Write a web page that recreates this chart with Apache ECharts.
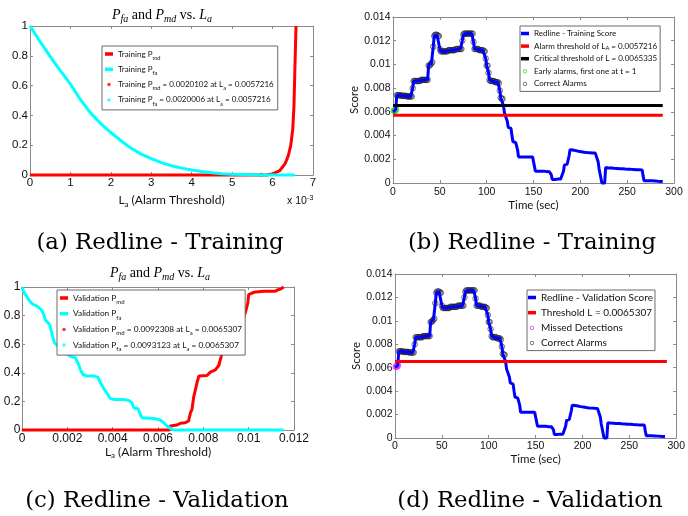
<!DOCTYPE html>
<html><head><meta charset="utf-8">
<script src="https://cdn.jsdelivr.net/npm/echarts@6/dist/echarts.min.js"></script>
<style>html,body{margin:0;padding:0;background:#fff}#c{width:688px;height:516px}</style>
</head><body><div id="c"></div>
<script>
// ---------------- DATA ----------------
// (a) Training: P_fa and P_md vs alarm threshold L_a
const trainLaFa = [0, 0.00025, 0.0005, 0.00075, 0.001, 0.00125, 0.0015, 0.00175, 0.002, 0.00225, 0.0025, 0.00275, 0.003, 0.00325, 0.0035, 0.00375, 0.004, 0.00425, 0.0045, 0.00475, 0.005, 0.00525, 0.0055, 0.00575, 0.006, 0.00655];
const trainPfa  = [1.0, 0.895, 0.795, 0.70, 0.61, 0.505, 0.415, 0.345, 0.285, 0.23, 0.18, 0.14, 0.11, 0.083, 0.062, 0.046, 0.034, 0.023, 0.015, 0.009, 0.005, 0.003, 0.001, 0.0005, 0, 0];
const trainLaMd = [0, 0.00585, 0.00602, 0.00618, 0.00631, 0.00639, 0.00645, 0.0065, 0.00653, 0.00655, 0.00658];
const trainPmd  = [0, 0, 0.009, 0.03, 0.076, 0.13, 0.2, 0.31, 0.47, 0.69, 1.0];
const trainAlarmThreshold = 0.0057216;
const trainPmdAtThr = 0.0020102;
const trainPfaAtThr = 0.0020006;
const criticalThreshold = 0.0065335;

// (c) Validation: P_fa and P_md vs alarm threshold L_a
const valLaFa = [0, 0.0001, 0.0003, 0.0004, 0.0005, 0.00063, 0.00076, 0.00088, 0.00096, 0.00103, 0.0011, 0.00122, 0.00128, 0.00137, 0.00143, 0.00154, 0.0017, 0.0019, 0.00213, 0.00235, 0.0025, 0.00257, 0.00269, 0.00287, 0.00316, 0.00335, 0.00346, 0.00363, 0.00378, 0.0039, 0.00404, 0.00449, 0.0047, 0.00485, 0.00493, 0.00512, 0.00522, 0.0053, 0.00581, 0.0061, 0.00625, 0.0064, 0.00654, 0.0067, 0.01154];
const valPfa  = [1.0, 0.96, 0.91, 0.89, 0.877, 0.87, 0.853, 0.835, 0.807, 0.77, 0.76, 0.737, 0.70, 0.644, 0.61, 0.593, 0.57, 0.54, 0.516, 0.505, 0.458, 0.423, 0.388, 0.377, 0.377, 0.37, 0.33, 0.284, 0.249, 0.22, 0.214, 0.214, 0.207, 0.19, 0.156, 0.149, 0.109, 0.086, 0.081, 0.07, 0.051, 0.028, 0.012, 0, 0];
const valLaMd = [0, 0.0065, 0.00654, 0.00684, 0.00699, 0.0072, 0.00735, 0.00743, 0.0075, 0.00757, 0.00772, 0.0078, 0.00816, 0.00831, 0.00853, 0.00868, 0.00878, 0.00882, 0.0090, 0.0093, 0.00956, 0.0097, 0.00985, 0.00996, 0.0100, 0.01022, 0.01066, 0.01118, 0.01128, 0.01143, 0.01154];
const valPmd  = [0, 0, 0.028, 0.035, 0.047, 0.051, 0.063, 0.12, 0.144, 0.226, 0.33, 0.377, 0.381, 0.405, 0.42, 0.451, 0.51, 0.54, 0.62, 0.70, 0.726, 0.749, 0.819, 0.888, 0.947, 0.963, 0.97, 0.97, 0.98, 0.988, 1.0];
const valThreshold = 0.0065307;
const valPmdAtThr = 0.0092308;
const valPfaAtThr = 0.0093123;

// (b)/(d) Redline score, one sample per second (t = 0 .. 288 s)
const score = [
  0.0060, 0.0061, 0.0061, 0.0062, 0.0074, 0.0074, 0.0074, 0.0074, 0.0074, 0.00735,
  0.00735, 0.00735, 0.00735, 0.00735, 0.00735, 0.0073, 0.0073, 0.0073, 0.0073, 0.0073,
  0.0073, 0.0080, 0.0086, 0.0086, 0.0086, 0.0086, 0.0086, 0.0086, 0.0086, 0.0086,
  0.0087, 0.0087, 0.0087, 0.0087, 0.0087, 0.0087, 0.0087, 0.0087, 0.0099, 0.0099,
  0.0100, 0.0101, 0.0102, 0.0115, 0.0124, 0.0125, 0.0125, 0.0125, 0.0124, 0.0124,
  0.0113, 0.0111, 0.0111, 0.0111, 0.0111, 0.0111, 0.0111, 0.0111, 0.0111, 0.0112,
  0.0112, 0.0112, 0.0112, 0.0112, 0.0112, 0.0112, 0.0112, 0.0113, 0.0113, 0.0113,
  0.0113, 0.0113, 0.0113, 0.0113, 0.0120, 0.0125, 0.0126, 0.0126, 0.0126, 0.0126,
  0.0126, 0.0126, 0.0126, 0.0126, 0.0126, 0.0126, 0.0119, 0.0113, 0.0113, 0.0113,
  0.0113, 0.0113, 0.0112, 0.0112, 0.0112, 0.0112, 0.0112, 0.0111, 0.0111, 0.0105,
  0.0099, 0.0099, 0.0093, 0.0087, 0.0086, 0.0086, 0.0086, 0.0086, 0.0086, 0.0085,
  0.0085, 0.0085, 0.0085, 0.0084, 0.0078, 0.0072, 0.0071, 0.0071, 0.0065, 0.0059,
  0.0059, 0.0058, 0.0052, 0.0047, 0.0047, 0.0046, 0.0046, 0.0040, 0.0035, 0.0035,
  0.0034, 0.0034, 0.0034, 0.0028, 0.0022, 0.0022, 0.0022, 0.0022, 0.0022, 0.0022,
  0.0022, 0.0022, 0.0022, 0.0022, 0.0022, 0.0022, 0.0022, 0.0022, 0.0022, 0.0022,
  0.0022, 0.0021, 0.0010, 0.0010, 0.0010, 0.0010, 0.0010, 0.0010, 0.0010, 0.0010,
  0.0010, 0.0010, 0.00098, 0.00097, 0.00096, 0.00096, 0.00095, 0.00095, 0.00095, 0.0007,
  0.0003, 0.0003, 0.0003, 0.0003, 0.0003, 0.00033, 0.00033, 0.00033, 0.00033, 0.00033,
  0.00035, 0.00035, 0.0010, 0.0015, 0.0016, 0.0016, 0.0016, 0.0017, 0.0023, 0.0028,
  0.0028, 0.0028, 0.00278, 0.00276, 0.00275, 0.00273, 0.00272, 0.0027, 0.00268, 0.00267,
  0.00265, 0.00264, 0.00262, 0.00261, 0.0026, 0.00259, 0.00258, 0.00257, 0.00256, 0.00255,
  0.00255, 0.00254, 0.00254, 0.00253, 0.00253, 0.00253, 0.00252, 0.00252, 0.0025, 0.0018,
  0.0012, 0.0012, 0.0011, 0.0000, 0.0000, 0.0000, 0.0000, 0.0013, 0.00128, 0.00128,
  0.00127, 0.00127, 0.00126, 0.00126, 0.00125, 0.00125, 0.00124, 0.00124, 0.00123, 0.00123,
  0.00122, 0.00122, 0.00121, 0.00121, 0.0012, 0.0012, 0.00119, 0.00119, 0.00118, 0.00118,
  0.00117, 0.00117, 0.00116, 0.00116, 0.00115, 0.00115, 0.00114, 0.00114, 0.00113, 0.00113,
  0.00112, 0.00112, 0.00111, 0.00111, 0.0011, 0.0011, 0.0011, 0.0006, 0.0002, 0.0002,
  0.0002, 0.0002, 0.0002, 0.0002, 0.0002, 0.00018, 0.00018, 0.00018, 0.00018, 0.00018,
  0.00016, 0.00015, 0.00015, 0.00014, 0.00014, 0.00013, 0.00013, 0.00012, 0.00012
];
const timeSec = score.map((_, i) => i);           // 1 Hz sampling
const earlyAlarmTimes = [1, 2, 3];
const missedDetectionTimes = [1, 2, 3];
const thresholdLineSpanB = [0, 288];
const thresholdLineSpanD = [0, 290];

// ---------------- HELPERS ----------------
const zip = (xs, ys) => xs.map((x, i) => [x, ys[i]]);
const BOX = '#8a8a8a', TXT = '#111';
const SANS = 'Liberation Sans', HUM = 'Lato', SERIF = 'Liberation Serif';

function xAxes(g, min, max, interval, o) {
  const label = {show: true, color: TXT, fontSize: o.fs, fontFamily: SANS, margin: o.margin};
  if (o.fmt) label.formatter = o.fmt;
  return [
    {type: 'value', gridIndex: g, position: 'bottom', min, max, interval,
     axisLine: {show: true, onZero: false, lineStyle: {color: BOX, width: 1}},
     axisTick: {show: true, inside: true, length: 3, lineStyle: {color: BOX}},
     axisLabel: label, splitLine: {show: false},
     name: o.name, nameLocation: 'middle', nameGap: o.gap, nameTextStyle: o.nameStyle},
    {type: 'value', gridIndex: g, position: 'top', min, max, interval,
     axisLine: {show: true, onZero: false, lineStyle: {color: BOX, width: 1}},
     axisTick: {show: true, inside: true, length: 3, lineStyle: {color: BOX}},
     axisLabel: {show: false}, splitLine: {show: false}}
  ];
}
function yAxes(g, min, max, interval, o) {
  const left = {type: 'value', gridIndex: g, position: 'left', min, max, interval,
     axisLine: {show: true, onZero: false, lineStyle: {color: BOX, width: 1}},
     axisTick: {show: true, inside: true, length: 3, lineStyle: {color: BOX}},
     axisLabel: {show: true, color: TXT, fontSize: o.fs, fontFamily: SANS, margin: o.margin},
     splitLine: {show: false}};
  if (o.name) {
    left.name = o.name; left.nameLocation = 'middle'; left.nameGap = o.gap;
    left.nameTextStyle = {fontFamily: HUM, fontSize: 11.5, color: TXT};
  }
  return [left,
    {type: 'value', gridIndex: g, position: 'right', min, max, interval,
     axisLine: {show: true, onZero: false, lineStyle: {color: BOX, width: 1}},
     axisTick: {show: true, inside: true, length: 3, lineStyle: {color: BOX}},
     axisLabel: {show: false}, splitLine: {show: false}}];
}
const laName = '{n|L}{s|a}{n| (Alarm Threshold)}';
const laNameStyle = {color: TXT, rich: {
  n: {fontFamily: HUM, fontSize: 12, lineHeight: 16, color: TXT},
  s: {fontFamily: HUM, fontSize: 8, lineHeight: 6, verticalAlign: 'bottom', color: TXT}}};
const timeNameStyle = {fontFamily: HUM, fontSize: 11.5, color: TXT, lineHeight: 14};

const lineItem = (name, color) => ({name, icon: 'rect', itemStyle: {color, borderWidth: 0}});
const dotItem = (name, color) => ({name, icon: 'circle', itemStyle: {color, borderWidth: 0}});
const ringItem = (name, color) => ({name, icon: 'circle', itemStyle: {color: 'rgba(0,0,0,0)', borderColor: color, borderWidth: 0.8}});

const LABELS = {
  'Training Pmd': 'Training P{s|md}',
  'Training Pfa': 'Training P{s|fa}',
  'Training Pmd at La': `Training P{s|md} = ${trainPmdAtThr} at L{s|a} = ${trainAlarmThreshold}`,
  'Training Pfa at La': `Training P{s|fa} = ${trainPfaAtThr} at L{s|a} = ${trainAlarmThreshold}`,
  'Redline - Training Score': 'Redline - Training Score',
  'Alarm threshold': `Alarm threshold of L{s|A} = ${trainAlarmThreshold}`,
  'Critical threshold': `Critical threshold of L = ${criticalThreshold}`,
  'Early alarms': 'Early alarms, first one at t = 1',
  'Correct Alarms (training)': 'Correct Alarms',
  'Validation Pmd': 'Validation P{s|md}',
  'Validation Pfa': 'Validation P{s|fa}',
  'Validation Pmd at La': `Validation P{s|md} = ${valPmdAtThr} at L{s|a} = ${valThreshold}`,
  'Validation Pfa at La': `Validation P{s|fa} = ${valPfaAtThr} at L{s|a} = ${valThreshold}`,
  'Redline - Validation Score': 'Redline - Validation Score',
  'Threshold L': `Threshold L = ${valThreshold}`,
  'Missed Detections': 'Missed Detections',
  'Correct Alarms (validation)': 'Correct Alarms'
};
function legendBox(o) {
  return {
    orient: 'vertical', left: o.left, top: o.top, padding: o.padding,
    itemWidth: o.iw, itemHeight: o.ih, itemGap: o.gap,
    backgroundColor: '#fff', borderColor: '#6a6a6a', borderWidth: 1, borderRadius: 0,
    selectedMode: false, data: o.data,
    formatter: name => LABELS[name],
    textStyle: {fontFamily: HUM, fontSize: o.fs, lineHeight: o.lh, color: TXT,
      rich: {s: {fontFamily: HUM, fontSize: o.fs * 0.72, lineHeight: 5, verticalAlign: 'bottom', color: TXT}}}
  };
}
const mathTitle = (x, y) => ({
  text: '{i|P}{s|fa}{r| and }{i|P}{s|md}{r| vs. }{i|L}{s|a}',
  left: x, top: y, padding: 0, textAlign: 'center', textVerticalAlign: 'middle',
  textStyle: {fontWeight: 'normal', rich: {
    i: {fontFamily: SERIF, fontStyle: 'italic', fontWeight: 'normal', fontSize: 14, lineHeight: 18, color: '#000'},
    s: {fontFamily: SERIF, fontStyle: 'italic', fontWeight: 'normal', fontSize: 10, lineHeight: 8, verticalAlign: 'bottom', color: '#000'},
    r: {fontFamily: SERIF, fontWeight: 'normal', fontSize: 14, lineHeight: 18, color: '#000'}}}
});
const caption = (text, x, y) => ({
  text, left: x, top: y, padding: 0, textAlign: 'center', textVerticalAlign: 'middle',
  textStyle: {fontFamily: 'DejaVu Serif', fontWeight: 'normal', fontSize: 22.8, color: '#000'}
});

// ---------------- OPTION ----------------
const option = {
  animation: false,
  backgroundColor: '#fff',
  title: [
    mathTitle(162, 15),
    mathTitle(160, 273),
    caption('(a) Redline - Training', 160, 243.5),
    caption('(b) Redline - Training', 532, 243.5),
    caption('(c) Redline - Validation', 157, 501),
    caption('(d) Redline - Validation', 530, 501),
    {text: '{n|x 10}{p|-3}', left: 287, top: 201.5, padding: 0, textAlign: 'left', textVerticalAlign: 'middle',
     textStyle: {fontWeight: 'normal', rich: {
       n: {fontFamily: SANS, fontWeight: 'normal', fontSize: 10.5, lineHeight: 16, color: TXT},
       p: {fontFamily: SANS, fontWeight: 'normal', fontSize: 7.5, lineHeight: 8, verticalAlign: 'top', color: TXT}}}}
  ],
  grid: [
    {left: 30, top: 26, width: 283, height: 149},
    {left: 393, top: 17, width: 281, height: 166},
    {left: 22, top: 287, width: 272, height: 143},
    {left: 395, top: 274, width: 283, height: 164}
  ],
  xAxis: [].concat(
    xAxes(0, 0, 0.007, 0.001, {fs: 11.5, margin: 2, fmt: v => String(Math.round(v * 1000)),
      name: laName, gap: 17.5, nameStyle: laNameStyle}),
    xAxes(1, 0, 300, 50, {fs: 10.5, margin: 3.5, name: 'Time (sec)', gap: 13, nameStyle: timeNameStyle}),
    xAxes(2, 0, 0.012, 0.002, {fs: 12, margin: 3, name: laName, gap: 12.5, nameStyle: laNameStyle}),
    xAxes(3, 0, 300, 50, {fs: 10.5, margin: 2.5, name: 'Time (sec)', gap: 14, nameStyle: timeNameStyle})
  ),
  yAxis: [].concat(
    yAxes(0, 0, 1, 0.2, {fs: 11.5, margin: 2}),
    yAxes(1, 0, 0.014, 0.002, {fs: 10.5, margin: 2.5, name: 'Score', gap: 30}),
    yAxes(2, 0, 1, 0.2, {fs: 12, margin: 1.5}),
    yAxes(3, 0, 0.014, 0.002, {fs: 10.5, margin: 2.5, name: 'Score', gap: 31})
  ),
  legend: [
    legendBox({left: 102, top: 46, padding: [1, 4, 3, 3], iw: 8, ih: 3.5, gap: 1.3, fs: 8, lh: 14,
      data: [lineItem('Training Pmd', '#ff0000'), lineItem('Training Pfa', '#00ffff'),
             dotItem('Training Pmd at La', '#ff0000'), dotItem('Training Pfa at La', '#00ffff')]}),
    legendBox({left: 520, top: 26, padding: [2, 3, 2, 1], iw: 8, ih: 3.5, gap: 1.6, fs: 8, lh: 11,
      data: [lineItem('Redline - Training Score', '#0000ff'), lineItem('Alarm threshold', '#ff0000'),
             lineItem('Critical threshold', '#000000'), ringItem('Early alarms', '#00dd00'),
             ringItem('Correct Alarms (training)', '#333333')]}),
    legendBox({left: 57, top: 290, padding: [1, 3, 3, 3], iw: 8, ih: 3.5, gap: 1.7, fs: 8.3, lh: 14,
      data: [lineItem('Validation Pmd', '#ff0000'), lineItem('Validation Pfa', '#00ffff'),
             dotItem('Validation Pmd at La', '#ff0000'), dotItem('Validation Pfa at La', '#00ffff')]}),
    legendBox({left: 527, top: 290, padding: [1, 2, 1, 1], iw: 8, ih: 3.5, gap: 2.2, fs: 10, lh: 13,
      data: [lineItem('Redline - Validation Score', '#0000ff'), lineItem('Threshold L', '#ff0000'),
             ringItem('Missed Detections', '#ff00ff'), ringItem('Correct Alarms (validation)', '#333333')]})
  ],
  series: [
    // (a)
    {name: 'Training Pmd', type: 'line', xAxisIndex: 0, yAxisIndex: 0, data: zip(trainLaMd, trainPmd),
     symbol: 'none', clip: false, lineStyle: {color: '#ff0000', width: 3}, itemStyle: {color: '#ff0000'}},
    {name: 'Training Pfa', type: 'line', xAxisIndex: 0, yAxisIndex: 0, data: zip(trainLaFa, trainPfa),
     symbol: 'none', clip: false, lineStyle: {color: '#00ffff', width: 3}, itemStyle: {color: '#00ffff'}},
    {name: 'Training Pmd at La', type: 'scatter', xAxisIndex: 0, yAxisIndex: 0,
     data: [[trainAlarmThreshold, trainPmdAtThr]], symbolSize: 4, clip: false, itemStyle: {color: '#ff0000'}},
    {name: 'Training Pfa at La', type: 'scatter', xAxisIndex: 0, yAxisIndex: 0,
     data: [[trainAlarmThreshold, trainPfaAtThr]], symbolSize: 4, clip: false, itemStyle: {color: '#00ffff'}},
    // (b)
    {name: 'Redline - Training Score', type: 'line', xAxisIndex: 2, yAxisIndex: 2, data: zip(timeSec, score),
     symbol: 'none', clip: false, lineStyle: {color: '#0000ff', width: 3}, itemStyle: {color: '#0000ff'}},
    {name: 'Correct Alarms (training)', type: 'scatter', xAxisIndex: 2, yAxisIndex: 2,
     data: timeSec.filter(t => score[t] > criticalThreshold).map(t => [t, score[t]]),
     symbolSize: 5.5, itemStyle: {color: 'rgba(0,0,0,0)', borderColor: 'rgba(35,35,35,0.8)', borderWidth: 1}},
    {name: 'Alarm threshold', type: 'line', xAxisIndex: 2, yAxisIndex: 2,
     data: thresholdLineSpanB.map(t => [t, trainAlarmThreshold]),
     symbol: 'none', lineStyle: {color: '#ff0000', width: 3}, itemStyle: {color: '#ff0000'}},
    {name: 'Critical threshold', type: 'line', xAxisIndex: 2, yAxisIndex: 2,
     data: thresholdLineSpanB.map(t => [t, criticalThreshold]),
     symbol: 'none', lineStyle: {color: '#000000', width: 3}, itemStyle: {color: '#000000'}},
    {name: 'Early alarms', type: 'scatter', xAxisIndex: 2, yAxisIndex: 2,
     data: earlyAlarmTimes.map(t => [t, score[t]]), symbolSize: 6, clip: false,
     itemStyle: {color: 'rgba(0,0,0,0)', borderColor: '#00dd00', borderWidth: 1}},
    // (c)
    {name: 'Validation Pmd', type: 'line', xAxisIndex: 4, yAxisIndex: 4, data: zip(valLaMd, valPmd),
     symbol: 'none', clip: false, lineStyle: {color: '#ff0000', width: 3}, itemStyle: {color: '#ff0000'}},
    {name: 'Validation Pfa', type: 'line', xAxisIndex: 4, yAxisIndex: 4, data: zip(valLaFa, valPfa),
     symbol: 'none', clip: false, lineStyle: {color: '#00ffff', width: 3}, itemStyle: {color: '#00ffff'}},
    {name: 'Validation Pmd at La', type: 'scatter', xAxisIndex: 4, yAxisIndex: 4,
     data: [[valThreshold, valPmdAtThr]], symbolSize: 4, clip: false, itemStyle: {color: '#ff0000'}},
    {name: 'Validation Pfa at La', type: 'scatter', xAxisIndex: 4, yAxisIndex: 4,
     data: [[valThreshold, valPfaAtThr]], symbolSize: 4, clip: false, itemStyle: {color: '#00ffff'}},
    // (d)
    {name: 'Redline - Validation Score', type: 'line', xAxisIndex: 6, yAxisIndex: 6, data: zip(timeSec, score),
     symbol: 'none', clip: false, lineStyle: {color: '#0000ff', width: 3}, itemStyle: {color: '#0000ff'}},
    {name: 'Correct Alarms (validation)', type: 'scatter', xAxisIndex: 6, yAxisIndex: 6,
     data: timeSec.filter(t => score[t] > valThreshold).map(t => [t, score[t]]),
     symbolSize: 5.5, itemStyle: {color: 'rgba(0,0,0,0)', borderColor: 'rgba(35,35,35,0.8)', borderWidth: 1}},
    {name: 'Threshold L', type: 'line', xAxisIndex: 6, yAxisIndex: 6,
     data: thresholdLineSpanD.map(t => [t, valThreshold]),
     symbol: 'none', lineStyle: {color: '#ff0000', width: 3}, itemStyle: {color: '#ff0000'}},
    {name: 'Missed Detections', type: 'scatter', xAxisIndex: 6, yAxisIndex: 6,
     data: missedDetectionTimes.map(t => [t, score[t]]), symbolSize: 6, clip: false,
     itemStyle: {color: 'rgba(0,0,0,0)', borderColor: '#ff00ff', borderWidth: 1}}
  ]
};
const chart = echarts.init(document.getElementById('c'), null, {renderer: 'canvas', width: 688, height: 516});
chart.setOption(option);
</script></body></html>
